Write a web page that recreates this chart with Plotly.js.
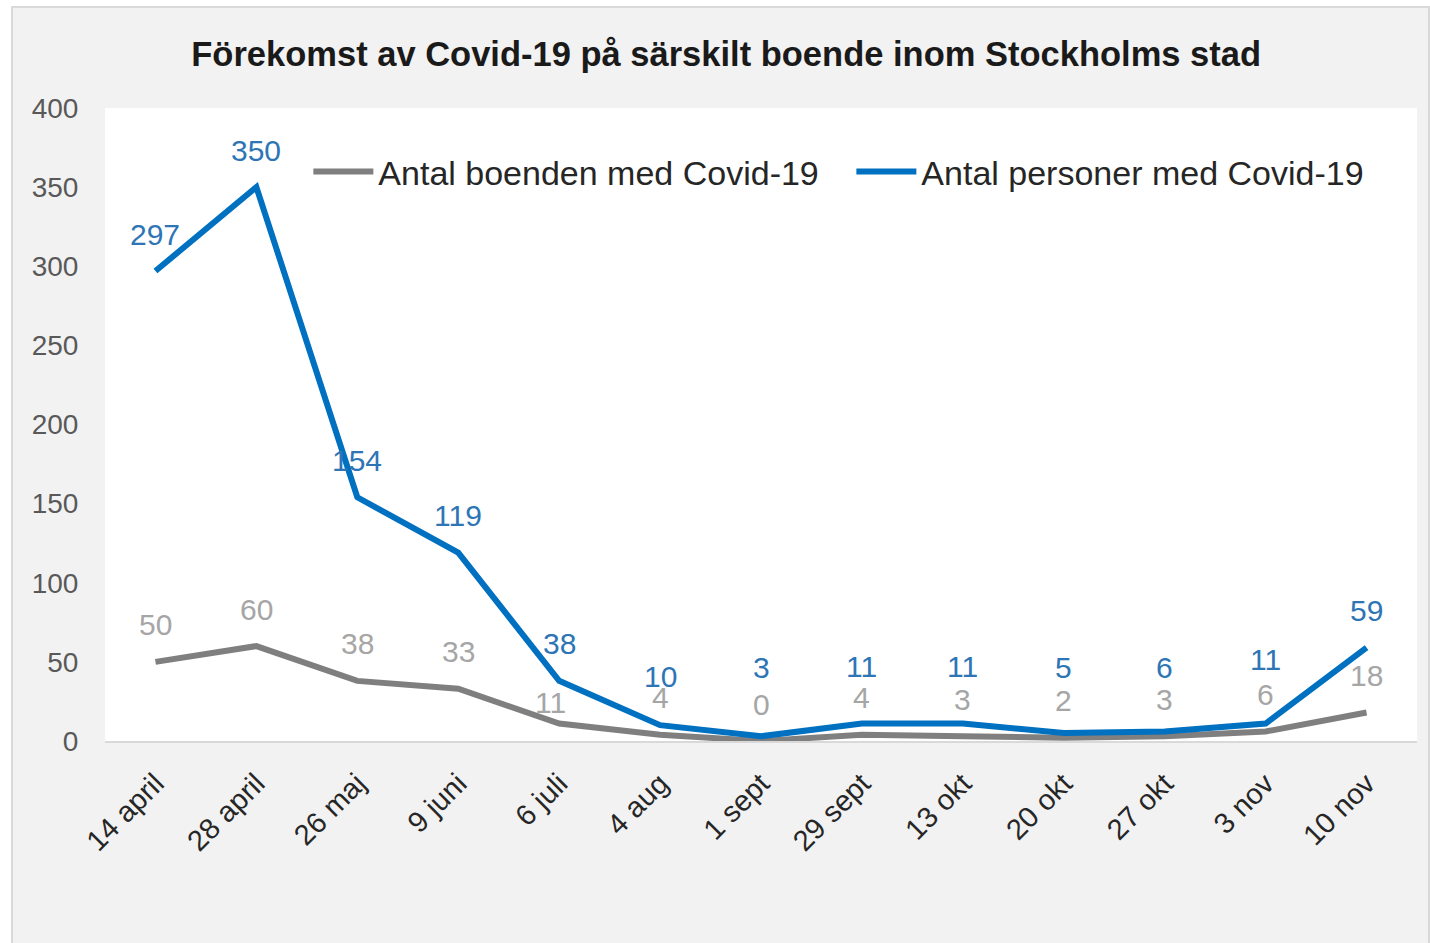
<!DOCTYPE html>
<html>
<head>
<meta charset="utf-8">
<script src="https://cdn.plot.ly/plotly-3.0.1.min.js"></script>
<style>
  html, body { margin: 0; padding: 0; background: #ffffff; }
  #chart { position: absolute; left: 11px; top: 6px; width: 1415px; height: 935px;
           border: 2px solid #d9d9d9; background: #f2f2f2; }
</style>
</head>
<body>
<div id="chart"></div>
<script>
// ---- data ----
const categories = ["14 april", "28 april", "26 maj", "9 juni", "6 juli", "4 aug", "1 sept",
                    "29 sept", "13 okt", "20 okt", "27 okt", "3 nov", "10 nov"];
const boenden  = [50, 60, 38, 33, 11, 4, 0, 4, 3, 2, 3, 6, 18];
const personer = [297, 350, 154, 119, 38, 10, 3, 11, 11, 5, 6, 11, 59];
const seriesNames = ["Antal boenden med Covid-19", "Antal personer med Covid-19"];
const yTicks = [0, 50, 100, 150, 200, 250, 300, 350, 400];

// ---- styling ----
const grayLine = "#7f7f7f", blueLine = "#0070c0";
const grayLabel = "#a6a6a6", blueLabel = "#2e75b6";
const FONT = "Liberation Sans, Arial, sans-serif";
// pixel lift of each data label above its point
const grayShift = [37, 37, 37, 37, 21, 37, 37, 37, 37, 37, 37, 37, 37];
const grayXShift = [0, 0, 0, 0, -9, 0, 0, 0, 0, 0, 0, 0, 0];
const blueShift = [37, 37, 37, 37, 37, 49, 69, 57, 57, 66, 64, 64, 37];

const traces = [
  { x: categories, y: boenden, name: seriesNames[0], type: "scatter", mode: "lines",
    line: { color: grayLine, width: 6 } },
  { x: categories, y: personer, name: seriesNames[1], type: "scatter", mode: "lines",
    line: { color: blueLine, width: 6 } }
];

const annotations = [];
categories.forEach((c, i) => {
  annotations.push({ x: c, y: boenden[i], text: String(boenden[i]), showarrow: false,
    yshift: grayShift[i], xshift: grayXShift[i], font: { family: FONT, size: 30, color: grayLabel } });
  annotations.push({ x: c, y: personer[i], text: String(personer[i]), showarrow: false,
    yshift: blueShift[i], font: { family: FONT, size: 30, color: blueLabel } });
});

const layout = {
  width: 1415, height: 935,
  margin: { l: 92, r: 11, t: 100, b: 202 },
  paper_bgcolor: "#f2f2f2",
  plot_bgcolor: "#ffffff",
  font: { family: FONT },
  title: { text: "<b>Förekomst av Covid-19 på särskilt boende inom Stockholms stad</b>",
           font: { family: FONT, size: 34.5, color: "#1a1a1a" },
           xref: "container", yref: "container", x: 0.504, y: 0.951,
           xanchor: "center", yanchor: "middle" },
  xaxis: { type: "category", range: [-0.5, 12.5], tickangle: -45,
           showgrid: false, zeroline: false, showline: true, linecolor: "#d9d9d9", linewidth: 2,
           ticks: "outside", ticklen: 12, tickcolor: "rgba(0,0,0,0)",
           tickfont: { family: FONT, size: 29, color: "#262626" } },
  yaxis: { range: [0, 400], tickvals: yTicks, showgrid: false, zeroline: false, showline: false,
           ticks: "outside", ticklen: 20, tickcolor: "rgba(0,0,0,0)",
           tickfont: { family: FONT, size: 28, color: "#595959" } },
  showlegend: true,
  legend: { orientation: "h", x: 0.155, y: 0.899, xanchor: "left", yanchor: "middle",
            bgcolor: "rgba(0,0,0,0)", itemwidth: 60,
            entrywidth: 468, entrywidthmode: "pixels",
            font: { family: FONT, size: 34, color: "#262626" } },
  annotations: annotations
};

Plotly.newPlot("chart", traces, layout, { displayModeBar: false, staticPlot: true });
</script>
</body>
</html>
